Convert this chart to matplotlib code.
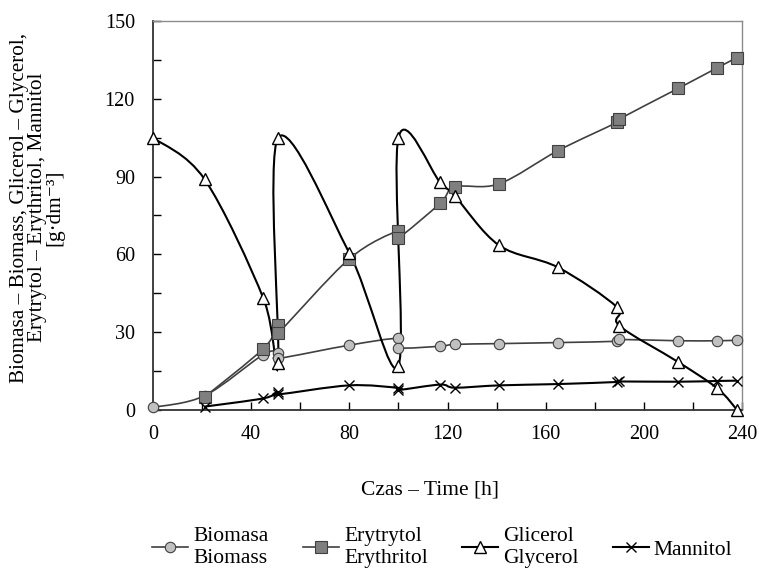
# Fermentation time course: biomass, erythritol, glycerol, mannitol

import matplotlib
matplotlib.use("Agg")
import matplotlib.pyplot as plt
from matplotlib.path import Path
from matplotlib.patches import PathPatch
from matplotlib.lines import Line2D
import numpy as np

plt.rcParams['font.family'] = ['Liberation Serif', 'DejaVu Serif']

# Biomasa - Biomass
bio_t = [0, 21, 45, 51, 51, 80, 100, 100, 117, 123, 141, 165, 189, 190, 214, 230, 238]
bio_v = [1.0, 5.5, 21.4, 21.8, 19.9, 25.0, 27.6, 24.0, 24.6, 25.3, 25.6, 26.0, 26.5, 27.2, 26.7, 26.7, 26.9]

# Erytrytol - Erythritol
ery_t = [21, 45, 51, 51, 80, 100, 100, 117, 123, 141, 165, 189, 190, 214, 230, 238]
ery_v = [5.0, 23.7, 32.7, 29.7, 58.3, 69.2, 66.3, 79.7, 86.0, 87.2, 100.0, 110.9, 112.2, 124.0, 132.0, 135.9]

# Glicerol - Glycerol
gly_t = [0, 21, 45, 51, 51, 80, 100, 100, 117, 123, 141, 165, 189, 190, 214, 230, 238]
gly_v = [105.0, 89.0, 43.0, 18.0, 105.0, 60.5, 17.0, 105.0, 87.8, 82.5, 63.5, 55.0, 39.7, 32.5, 18.5, 8.3, 0.0]

# Mannitol
man_t = [21, 45, 51, 51, 80, 100, 100, 117, 123, 141, 165, 189, 190, 214, 230, 238]
man_v = [1.3, 4.5, 7.0, 6.0, 9.5, 8.5, 7.7, 9.8, 8.6, 9.5, 10.0, 10.8, 11.0, 10.9, 11.2, 11.3]


def smooth_path(xs, ys):
    # Excel-like smoothed line: cubic Bezier through the points
    p = np.column_stack([xs, ys]).astype(float)
    n = len(p)
    verts = [p[0]]
    codes = [Path.MOVETO]
    for i in range(n - 1):
        p0 = p[i - 1] if i > 0 else p[i]
        p1 = p[i]
        p2 = p[i + 1]
        p3 = p[i + 2] if i + 2 < n else p[i + 1]
        c1 = p1 + (p2 - p0) / 6.0
        c2 = p2 - (p3 - p1) / 6.0
        verts += [c1, c2, p2]
        codes += [Path.CURVE4] * 3
    return Path(verts, codes)


fig = plt.figure(figsize=(7.59, 5.71), dpi=100)
ax = fig.add_axes([153 / 759, 1 - 410 / 571, 589 / 759, 389 / 571])

series = [
    (bio_t, bio_v, dict(marker='o', ms=7.5, mfc='#c0c0c0', mec='#404040', mew=0.8), '#404040', 1.2),
    (ery_t, ery_v, dict(marker='s', ms=8, mfc='#7f7f7f', mec='#404040', mew=0.8), '#404040', 1.2),
    (man_t, man_v, dict(marker='x', ms=7.5, mec='black', mew=1.0), 'black', 1.5),
    (gly_t, gly_v, dict(marker='^', ms=8.5, mfc='white', mec='black', mew=1.0), 'black', 1.5),
]

for k, (t, v, mk, lc, lw) in enumerate(series):
    ax.add_patch(PathPatch(smooth_path(t, v), fill=False, edgecolor=lc, lw=lw, zorder=2 + k))
    ax.plot(t, v, ls='none', zorder=6 + k, clip_on=False, **mk)

ax.set_xlim(0, 240)
ax.set_ylim(0, 150)
ax.set_xticks(range(0, 241, 40))
ax.set_xticks(range(0, 241, 20), minor=True)
ax.set_yticks(range(0, 151, 30))
ax.set_yticks(range(0, 151, 15), minor=True)
ax.tick_params(which='both', direction='in', length=6, width=1, labelsize=14.5)
ax.tick_params(axis='x', pad=11)
ax.tick_params(axis='y', pad=13)

for s in ['top', 'right']:
    ax.spines[s].set_color('#8c8c8c')
    ax.spines[s].set_linewidth(1)
for s in ['left', 'bottom']:
    ax.spines[s].set_color('#333333')
    ax.spines[s].set_linewidth(1.3)

ax.set_xlabel('Czas – Time [h]', fontsize=15.5)
ax.xaxis.set_label_coords(0.47, -0.18)
ax.set_ylabel('Biomasa – Biomass, Glicerol – Glycerol,\nErytrytol – Erythritol, Mannitol\n[g·dm⁻³]',
              fontsize=15.3, linespacing=0.92)
ax.yaxis.set_label_coords(-0.15, 0.52)

handles = [Line2D([], [], color=lc, lw=lw, **mk) for (t, v, mk, lc, lw) in
           [series[0], series[1], series[3], series[2]]]
labels = ['Biomasa\nBiomass', 'Erytrytol\nErythritol', 'Glicerol\nGlycerol', 'Mannitol']
fig.legend(handles, labels, loc='center', bbox_to_anchor=(0.583, 0.041), ncol=4,
           frameon=False, fontsize=15.5, handlelength=1.65, handletextpad=0.25,
           columnspacing=1.6, labelspacing=0.2)

fig.savefig('out.png', dpi=100)
